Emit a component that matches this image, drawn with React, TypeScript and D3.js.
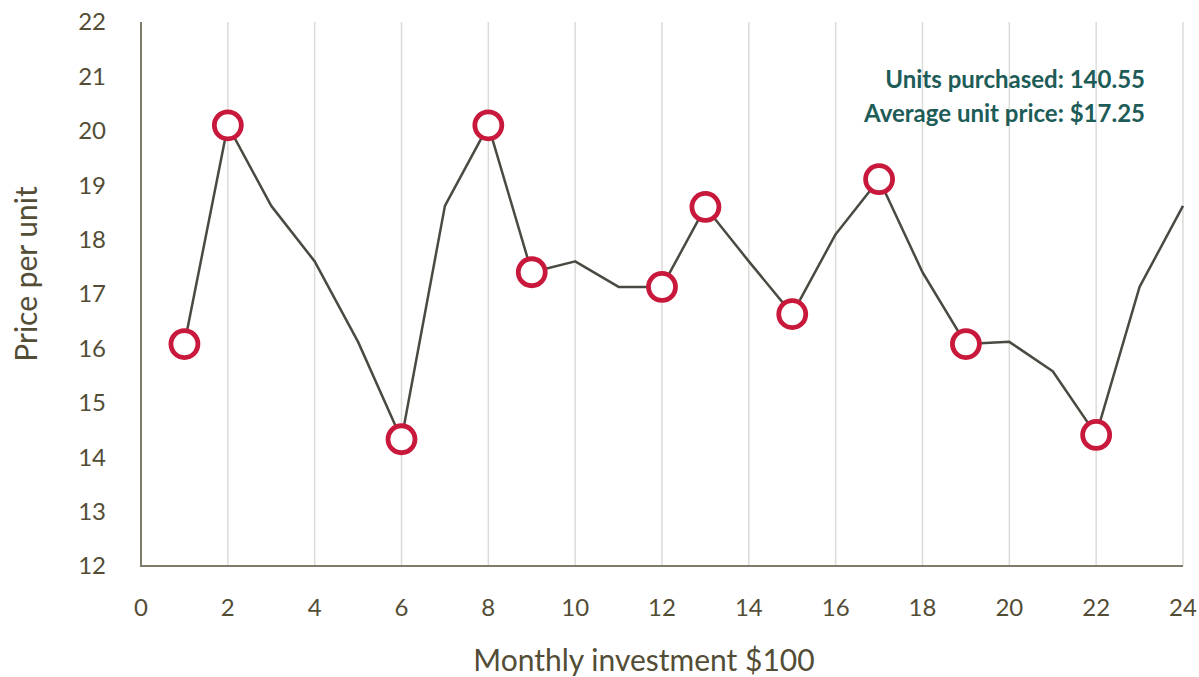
import { useRef, useEffect } from 'react'
import * as d3 from 'd3'

const MONTHS = [1, 2, 3, 4, 5, 6, 7, 8, 9, 10, 11, 12, 13, 14, 15, 16, 17, 18, 19, 20, 21, 22, 23, 24]
const PRICES = [
  16.08, 20.1, 18.62, 17.6, 16.12, 14.33, 18.62, 20.1, 17.4, 17.6, 17.13, 17.13,
  18.6, 17.6, 16.63, 18.1, 19.11, 17.4, 16.08, 16.12, 15.58, 14.41, 17.13, 18.62,
]
const MARKED_MONTHS = [1, 2, 6, 8, 9, 12, 13, 15, 17, 19, 22]
const X_TICKS = [0, 2, 4, 6, 8, 10, 12, 14, 16, 18, 20, 22, 24]
const Y_TICKS = [12, 13, 14, 15, 16, 17, 18, 19, 20, 21, 22]
const NOTES = ['Units purchased: 140.55', 'Average unit price: $17.25']

const WIDTH = 1199
const HEIGHT = 677
const FONT = 'Lato, "Source Sans Pro", sans-serif'
const TEXT = '#534d36'
const AXIS = '#7f7b6a'

export default function App() {
  const svgRef = useRef<SVGSVGElement>(null)

  useEffect(() => {
    if (!svgRef.current) return
    const svg = d3.select(svgRef.current)
    svg.selectAll('*').remove()

    const x = d3.scaleLinear().domain([0, 24]).range([141, 1183])
    const y = d3.scaleLinear().domain([12, 22]).range([566, 22])

    // vertical gridlines
    svg
      .append('g')
      .selectAll('line')
      .data(X_TICKS.filter((t) => t > 0))
      .enter()
      .append('line')
      .attr('x1', (t) => x(t))
      .attr('x2', (t) => x(t))
      .attr('y1', y(22))
      .attr('y2', y(12))
      .attr('stroke', '#dcdbd8')
      .attr('stroke-width', 1.5)

    // axes
    svg
      .append('line')
      .attr('x1', x(0))
      .attr('x2', x(0))
      .attr('y1', y(22))
      .attr('y2', y(12))
      .attr('stroke', AXIS)
      .attr('stroke-width', 2)
    svg
      .append('line')
      .attr('x1', x(0) - 1)
      .attr('x2', x(24))
      .attr('y1', y(12))
      .attr('y2', y(12))
      .attr('stroke', AXIS)
      .attr('stroke-width', 2)

    // tick labels
    svg
      .append('g')
      .selectAll('text')
      .data(Y_TICKS)
      .enter()
      .append('text')
      .attr('x', 106)
      .attr('y', (t) => y(t))
      .attr('dy', '0.35em')
      .attr('text-anchor', 'end')
      .attr('font-family', FONT)
      .attr('font-size', 24)
      .attr('fill', TEXT)
      .text((t) => t)

    svg
      .append('g')
      .selectAll('text')
      .data(X_TICKS)
      .enter()
      .append('text')
      .attr('x', (t) => x(t))
      .attr('y', 616)
      .attr('text-anchor', 'middle')
      .attr('font-family', FONT)
      .attr('font-size', 24)
      .attr('fill', TEXT)
      .text((t) => t)

    // axis titles
    svg
      .append('text')
      .attr('transform', 'translate(37,274) rotate(-90)')
      .attr('text-anchor', 'middle')
      .attr('font-family', FONT)
      .attr('font-size', 30)
      .attr('fill', TEXT)
      .text('Price per unit')

    svg
      .append('text')
      .attr('x', 644)
      .attr('y', 671)
      .attr('text-anchor', 'middle')
      .attr('font-family', FONT)
      .attr('font-size', 30)
      .attr('fill', TEXT)
      .text('Monthly investment $100')

    // price line
    const pts = MONTHS.map((m, i) => [m, PRICES[i]] as [number, number])
    const line = d3
      .line<[number, number]>()
      .x((d) => x(d[0]))
      .y((d) => y(d[1]))
    svg
      .append('path')
      .attr('d', line(pts))
      .attr('fill', 'none')
      .attr('stroke', '#4b4a42')
      .attr('stroke-width', 2.5)
      .attr('stroke-linejoin', 'round')

    // purchase markers
    svg
      .append('g')
      .selectAll('circle')
      .data(pts.filter((p) => MARKED_MONTHS.includes(p[0])))
      .enter()
      .append('circle')
      .attr('cx', (d) => x(d[0]))
      .attr('cy', (d) => y(d[1]))
      .attr('r', 13.5)
      .attr('fill', '#fff')
      .attr('stroke', '#c8193c')
      .attr('stroke-width', 4.8)

    // notes
    svg
      .append('g')
      .selectAll('text')
      .data(NOTES)
      .enter()
      .append('text')
      .attr('x', 1145)
      .attr('y', (_, i) => 88 + i * 34)
      .attr('text-anchor', 'end')
      .attr('font-family', FONT)
      .attr('font-weight', 700)
      .attr('font-size', 24)
      .attr('fill', '#1d5c57')
      .text((d) => d)
  }, [])

  return (
    <svg
      ref={svgRef}
      width={WIDTH}
      height={HEIGHT}
      style={{ position: 'absolute', left: 0, top: 0, background: '#fff' }}
    />
  )
}
